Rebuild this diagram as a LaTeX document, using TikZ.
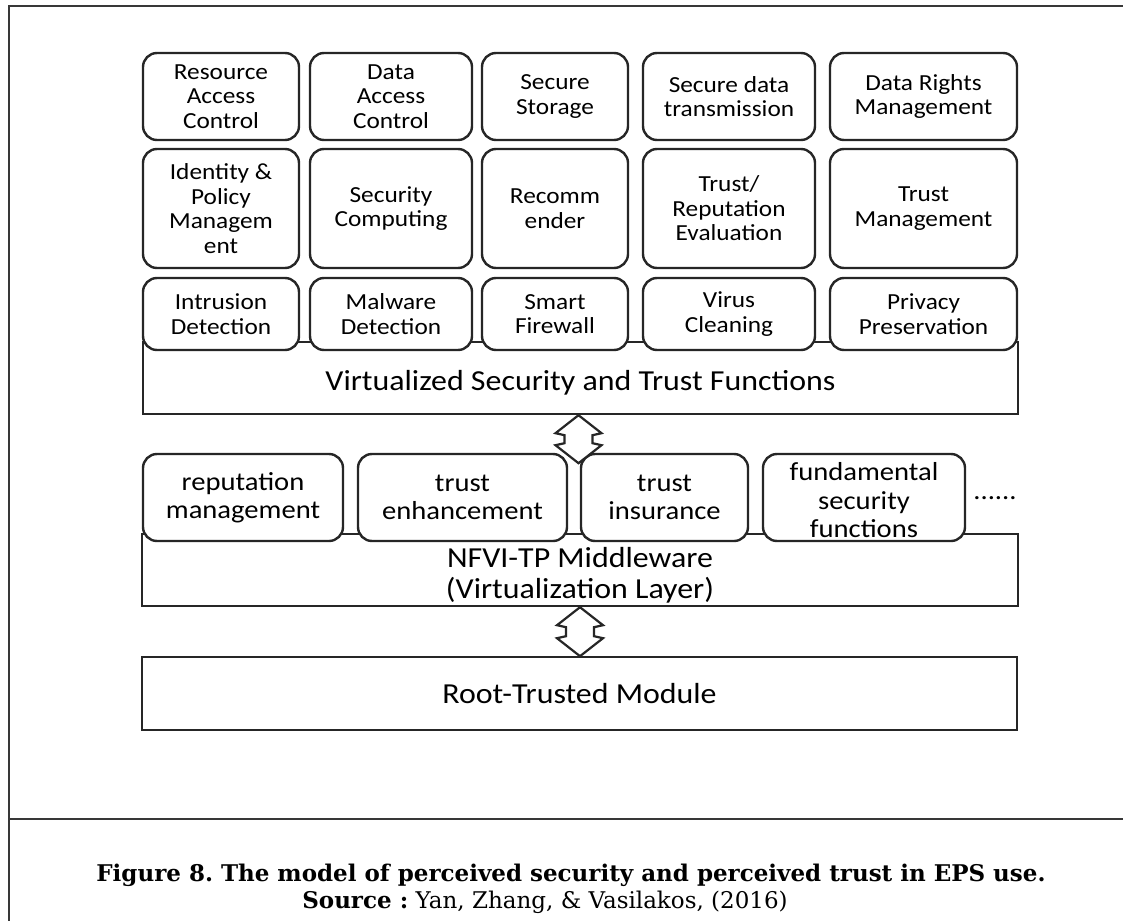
\documentclass[tikz,border=0pt]{standalone}
\usepackage{fontspec}
\newfontfamily\boxfont{Carlito}[FakeStretch=1.1]
\newfontfamily\capfont{DejaVu Serif}
\usetikzlibrary{calc}

% two-headed hollow arrow: #1 = upper tip, #2 = length (downwards)
\newcommand\twowayarrow[2]{%
  \draw[twoway] (#1) -- ++(23,18) -- ++(-9,2) -- ++(0,{#2-40}) -- ++(9,2)
    -- ++(-23,18) -- ++(-23,-18) -- ++(9,-2) -- ++(0,{40-#2}) -- ++(-9,-2) -- cycle;}

\begin{document}
\frenchspacing
\begin{tikzpicture}[x=1pt,y=-1pt,
  frameline/.style={draw=black!78, line width=1.8pt},
  fnbox/.style={draw=black!85, line width=2.4pt, rounded corners=14pt, fill=white,
    align=center, inner sep=0pt, font=\boxfont\fontsize{23}{24.5}\selectfont},
  mwbox/.style={fnbox, font=\boxfont\fontsize{26}{28.5}\selectfont},
  mwtext/.style={font=\boxfont\fontsize{26}{28.5}\selectfont, align=center, inner sep=0pt},
  layer/.style={draw=black!85, line width=2.4pt, fill=white, align=center, inner sep=0pt,
    font=\boxfont\fontsize{29}{31}\selectfont},
  layertext/.style={font=\boxfont\fontsize{29}{31}\selectfont, align=center},
  twoway/.style={draw=black!85, line width=2.2pt, fill=white, line join=miter},
  r1/.style={minimum height=87pt},
  r2/.style={minimum height=119pt},
  r3/.style={minimum height=72pt},
  r4/.style={minimum height=87pt},
]
\useasboundingbox (0,0) rectangle (1123,920);

% page frame and caption rule
\draw[frameline] (9,921) -- (9,6) -- (1124,6);
\draw[frameline] (9,819) -- (1124,819);

% ---- virtualized functions ----
\node[fnbox, r1, minimum width=156pt] (rac) at (221,96.5) {Resource\\Access\\Control};
\node[fnbox, r1, minimum width=162pt] (dac) at (391,96.5) {Data\\Access\\Control};
\node[fnbox, r1, minimum width=146pt] (sst) at (555,96.5) {Secure\\Storage};
\node[fnbox, r1, minimum width=172pt] (sdt) at (729,96.5) {Secure data\\transmission};
\node[fnbox, r1, minimum width=187pt] (drm) at (923.5,96.5) {Data Rights\\Management};

\node[fnbox, r2, minimum width=156pt] (ipm) at (221,208.5) {Identity \&\\Policy\\Managem\\ent};
\node[fnbox, r2, minimum width=162pt] (scp) at (391,208.5) {Security\\Computing};
\node[fnbox, r2, minimum width=146pt] (rec) at (555,208.5) {Recomm\\ender};
\node[fnbox, r2, minimum width=172pt] (tre) at (729,208.5) {Trust/\\Reputation\\Evaluation};
\node[fnbox, r2, minimum width=187pt] (tmg) at (923.5,208.5) {Trust\\Management};

\node[layer, minimum width=875pt, minimum height=72pt,
  label={[name=vstftext, yshift=-5pt, layertext]center:Virtualized Security and Trust Functions}]
  (vstf) at (580.5,378) {};

\node[fnbox, r3, minimum width=156pt] (ids) at (221,314) {Intrusion\\Detection};
\node[fnbox, r3, minimum width=162pt] (mds) at (391,314) {Malware\\Detection};
\node[fnbox, r3, minimum width=146pt] (sfw) at (555,314) {Smart\\Firewall};
\node[fnbox, r3, minimum width=172pt] (vcl) at (729,314) {Virus\\Cleaning};
\node[fnbox, r3, minimum width=187pt] (ppr) at (923.5,314) {Privacy\\Preservation};

% ---- middleware ----
\node[layer, minimum width=876pt, minimum height=72pt,
  label={[name=nfvitext, yshift=-5pt, layertext]center:NFVI-TP Middleware\\(Virtualization Layer)}]
  (nfvi) at (580,570) {};

\node[mwbox, r4, minimum width=200pt] (rep) at (243,497.5) {reputation\\management};
\node[mwbox, r4, minimum width=209pt] (enh) at (462.5,497.5) {trust\\enhancement};
\node[mwbox, r4, minimum width=167pt] (ins) at (664.5,497.5) {trust\\insurance};
\node[mwbox, r4, minimum width=202pt,
  label={[name=fsftext, yshift=-3pt, mwtext]center:fundamental\\security\\functions}]
  (fsf) at (864,497.5) {};
\node[font=\boxfont\fontsize{26}{28}\selectfont, inner sep=0pt] (more) at (995,498) {......};

% ---- root of trust ----
\node[layer, minimum width=875pt, minimum height=73pt] (root) at (579.5,693.5) {Root-Trusted Module};

% ---- interfaces between layers ----
\twowayarrow{$(vstf.south)+(-2,0)$}{48}
\twowayarrow{nfvi.south}{49}

% ---- caption ----
\node[font=\capfont\bfseries\fontsize{23}{27}\selectfont, inner sep=0pt] (cap) at (571,875)
  {Figure 8. The model of perceived security and perceived trust in EPS use.};
\node[font=\capfont\fontsize{23}{27}\selectfont, inner sep=0pt] (src) at (545,902)
  {\textbf{Source :} Yan, Zhang, \& Vasilakos, (2016)};
\end{tikzpicture}
\end{document}
